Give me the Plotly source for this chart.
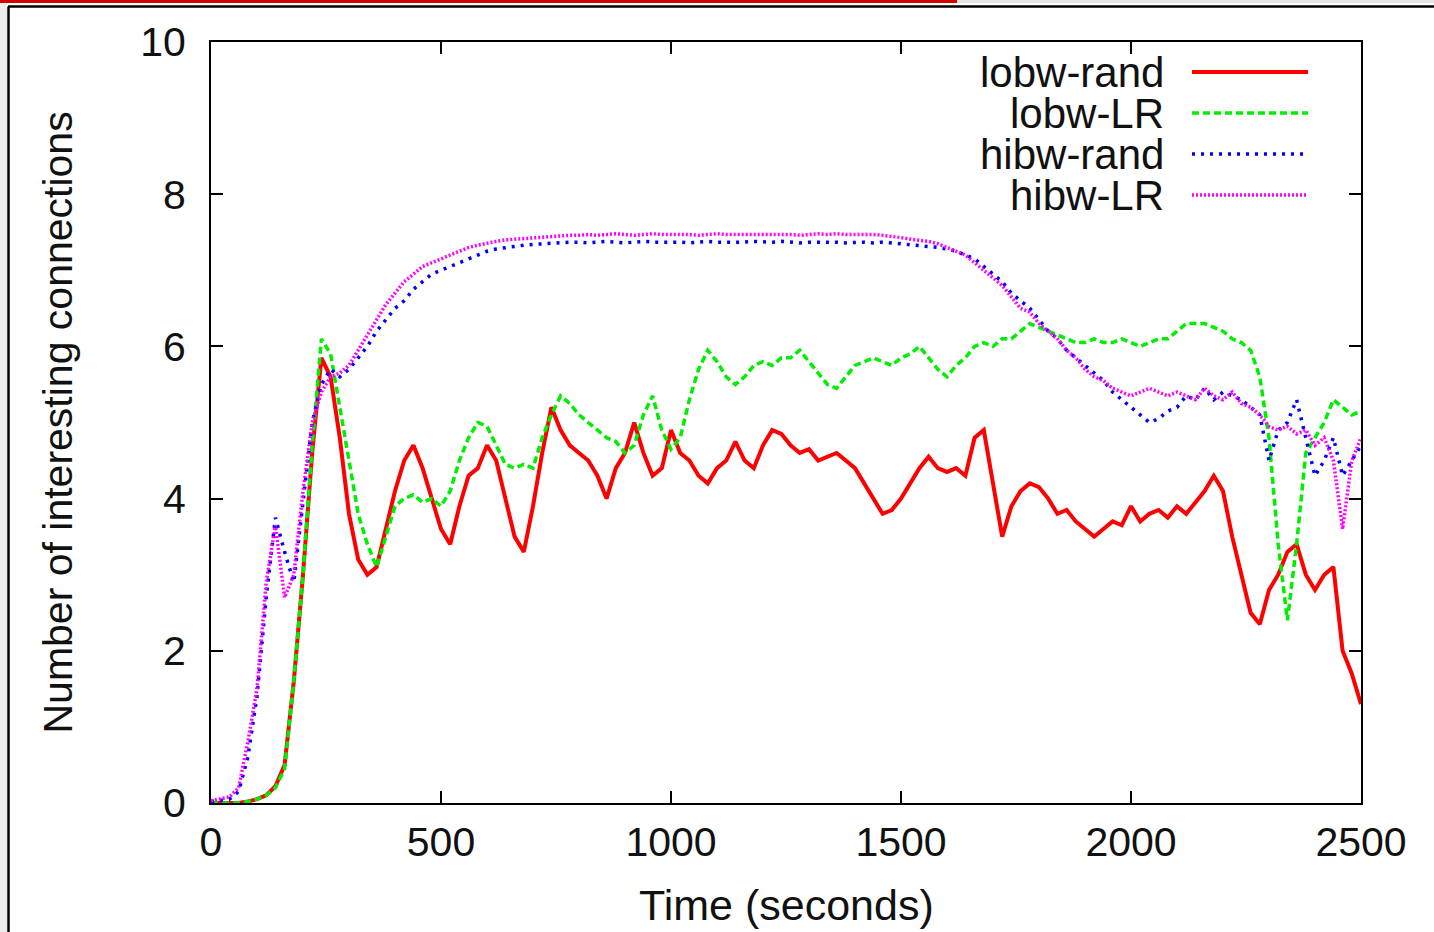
import plotly.graph_objects as go

# ---------------- data ----------------
time_s = list(range(0, 2501, 20))

lobw_rand = [
    0.0, 0.0, 0.0, 0.0, 0.02, 0.05, 0.1, 0.22, 0.5, 1.6,
    3.0, 4.6, 5.85, 5.6, 4.8, 3.8, 3.2, 3.0, 3.1, 3.6,
    4.1, 4.5, 4.7, 4.4, 4.0, 3.6, 3.4, 3.9, 4.3, 4.4,
    4.7, 4.5, 4.0, 3.5, 3.3, 3.9, 4.6, 5.2, 4.9, 4.7,
    4.6, 4.5, 4.3, 4.0, 4.4, 4.6, 5.0, 4.6, 4.3, 4.4,
    4.9, 4.6, 4.5, 4.3, 4.2, 4.4, 4.5, 4.75, 4.5, 4.4,
    4.7, 4.9, 4.85, 4.7, 4.6, 4.65, 4.5, 4.55, 4.6, 4.5,
    4.4, 4.2, 4.0, 3.8, 3.85, 4.0, 4.2, 4.4, 4.55, 4.4,
    4.35, 4.4, 4.3, 4.8, 4.9, 4.2, 3.5, 3.9, 4.1, 4.2,
    4.15, 4.0, 3.8, 3.85, 3.7, 3.6, 3.5, 3.6, 3.7, 3.65,
    3.9, 3.7, 3.8, 3.85, 3.75, 3.9, 3.8, 3.95, 4.1, 4.3,
    4.1, 3.5, 3.0, 2.5, 2.35, 2.8, 3.0, 3.3, 3.4, 3.0,
    2.8, 3.0, 3.1, 2.0, 1.7, 1.3,
]

lobw_lr = [
    0.0, 0.0, 0.0, 0.0, 0.02, 0.05, 0.1, 0.2, 0.45, 1.6,
    3.0, 4.7, 6.1, 5.9, 5.2, 4.5, 3.8, 3.4, 3.1, 3.5,
    3.9, 4.0, 4.05, 3.95, 4.0, 3.9, 4.1, 4.5, 4.8, 5.0,
    4.95, 4.7, 4.45, 4.4, 4.45, 4.4, 4.8, 5.1, 5.35, 5.25,
    5.1, 5.0, 4.9, 4.8, 4.75, 4.6, 4.7, 5.1, 5.35, 4.9,
    4.65, 4.8, 5.3, 5.7, 5.95, 5.8, 5.6, 5.5, 5.6, 5.75,
    5.8, 5.75, 5.85, 5.85, 5.95, 5.8, 5.65, 5.5, 5.45, 5.6,
    5.75, 5.8, 5.85, 5.8, 5.75, 5.85, 5.9, 6.0, 5.85, 5.7,
    5.6, 5.75, 5.85, 6.0, 6.05, 6.0, 6.1, 6.1, 6.2, 6.3,
    6.25, 6.2, 6.15, 6.1, 6.05, 6.05, 6.1, 6.05, 6.05, 6.1,
    6.05, 6.0, 6.05, 6.1, 6.1, 6.2, 6.3, 6.3, 6.3, 6.25,
    6.2, 6.1, 6.05, 5.95, 5.6, 4.8, 3.4, 2.4, 3.4, 4.6,
    4.8, 5.0, 5.3, 5.2, 5.1, 5.15,
]

hibw_rand = [
    0.02, 0.03, 0.05, 0.15, 0.6, 1.4, 2.7, 3.75, 3.3, 2.9,
    4.0, 5.0, 5.5, 5.7, 5.6, 5.7, 5.85, 6.0, 6.2, 6.35,
    6.5, 6.6, 6.75, 6.85, 6.95, 7.0, 7.05, 7.1, 7.15, 7.2,
    7.25, 7.28, 7.3, 7.32, 7.33, 7.34, 7.35, 7.36, 7.36, 7.37,
    7.37, 7.36, 7.37, 7.38, 7.37, 7.36, 7.37, 7.38, 7.37, 7.37,
    7.38, 7.37, 7.36, 7.37, 7.38, 7.37, 7.37, 7.36, 7.37, 7.38,
    7.37, 7.37, 7.38, 7.37, 7.36, 7.37, 7.37, 7.38, 7.37, 7.36,
    7.37, 7.37, 7.36, 7.37, 7.36, 7.35, 7.34, 7.33, 7.32, 7.3,
    7.28, 7.25, 7.2, 7.15, 7.05, 6.95, 6.85, 6.7, 6.6, 6.5,
    6.35, 6.2, 6.1, 5.95, 5.85, 5.75, 5.65, 5.55, 5.4, 5.3,
    5.2, 5.1, 5.0, 5.05, 5.15, 5.2, 5.35, 5.3, 5.45, 5.3,
    5.4, 5.35, 5.3, 5.2, 5.1, 4.5, 4.9, 5.0, 5.3, 4.8,
    4.3, 4.5, 4.8, 4.3, 4.5, 4.7,
]

hibw_lr = [
    0.03, 0.05, 0.08, 0.2, 0.8, 1.5, 2.9, 3.65, 2.7, 3.0,
    4.1, 5.0, 5.4, 5.6, 5.65, 5.75, 5.95, 6.15, 6.35, 6.55,
    6.7, 6.85, 6.95, 7.05, 7.1, 7.15, 7.2, 7.25, 7.3, 7.33,
    7.36, 7.38, 7.4, 7.41, 7.42, 7.43, 7.44, 7.45, 7.45, 7.46,
    7.46, 7.47, 7.46, 7.47, 7.48, 7.47, 7.46, 7.47, 7.48, 7.47,
    7.47, 7.48, 7.47, 7.46, 7.47, 7.48, 7.47, 7.47, 7.48, 7.47,
    7.48, 7.47, 7.48, 7.47, 7.46, 7.47, 7.48, 7.47, 7.48, 7.47,
    7.47, 7.48, 7.47, 7.46, 7.45, 7.43, 7.41, 7.4, 7.38, 7.35,
    7.3, 7.25, 7.2, 7.1, 7.0, 6.9, 6.8, 6.65, 6.5, 6.45,
    6.3, 6.2, 6.1, 5.95, 5.85, 5.7, 5.6, 5.55, 5.45, 5.4,
    5.35, 5.4, 5.45, 5.4, 5.35, 5.4, 5.35, 5.3, 5.45, 5.35,
    5.3, 5.4, 5.25, 5.2, 5.1, 4.95, 4.9, 4.95, 4.85, 4.9,
    4.7, 4.8, 4.5, 3.6, 4.5, 4.8,
]

series_names = ["lobw-rand", "lobw-LR", "hibw-rand", "hibw-LR"]
x_ticks = [0, 500, 1000, 1500, 2000, 2500]
y_ticks = [0, 2, 4, 6, 8, 10]

# ---------------- styling ----------------
W, H = 1434, 932
L, R, T, B = 211, 73, 42, 129
PW, PH = W - L - R, H - T - B
FONT = "Liberation Sans, Arial, Helvetica, sans-serif"
TXT = "#111111"

def px(xp):
    return (xp - L) / PW

def py(yp):
    return (H - B - yp) / PH

styles = [
    dict(color="#ff0000", width=4, dash="solid"),
    dict(color="#00ee00", width=3.5, dash="7px,4px"),
    dict(color="#0000ff", width=3.5, dash="3px,6px"),
    dict(color="#ff00ff", width=3.5, dash="2px,2px"),
]
series = [lobw_rand, lobw_lr, hibw_rand, hibw_lr]

fig = go.Figure()
for name, ys, st in zip(series_names, series, styles):
    fig.add_trace(go.Scatter(x=time_s, y=ys, mode="lines", name=name,
                             line=st, showlegend=False))

axis_common = dict(
    showline=True, linecolor="black", linewidth=2, mirror="ticks",
    ticks="inside", ticklen=12, tickwidth=1.5, tickcolor="black",
    showgrid=False, zeroline=False,
    tickfont=dict(family=FONT, size=41, color=TXT),
)

fig.update_layout(
    width=W, height=H,
    margin=dict(l=L, r=R, t=T, b=B),
    paper_bgcolor="white", plot_bgcolor="white",
    font=dict(family=FONT, color="black"),
    xaxis=dict(range=[0, 2500], tickvals=x_ticks, ticklabelstandoff=2, **axis_common),
    yaxis=dict(range=[0, 10], tickvals=y_ticks, ticklabelstandoff=15, **axis_common),
)

annotations = [
    dict(text="Time (seconds)", x=0.5, y=py(905), xref="paper", yref="paper",
         showarrow=False, xanchor="center", yanchor="middle",
         font=dict(family=FONT, size=43, color=TXT)),
    dict(text="Number of interesting connections", x=px(57), y=0.5,
         xref="paper", yref="paper", showarrow=False, textangle=-90,
         xanchor="center", yanchor="middle",
         font=dict(family=FONT, size=41, color=TXT)),
]
shapes = []
legend_rows = [72, 113, 154, 195]
for name, st, yrow in zip(series_names, styles, legend_rows):
    annotations.append(dict(text=name, x=px(1166), y=py(yrow), xref="paper", yref="paper",
                            showarrow=False, xanchor="right", yanchor="middle",
                            font=dict(family=FONT, size=42, color=TXT)))
    shapes.append(dict(type="line", xref="paper", yref="paper",
                       x0=px(1192), x1=px(1308), y0=py(yrow), y1=py(yrow),
                       line=dict(color=st["color"], width=st["width"], dash=st["dash"])))

# page frame decorations
shapes += [
    dict(type="rect", xref="paper", yref="paper", x0=px(0), x1=px(957), y0=py(3), y1=py(0),
         line=dict(width=0), fillcolor="#d40000", layer="above"),
    dict(type="rect", xref="paper", yref="paper", x0=px(957), x1=px(1434), y0=py(3), y1=py(0),
         line=dict(width=0), fillcolor="#e4e4e4", layer="above"),
    dict(type="rect", xref="paper", yref="paper", x0=px(0), x1=px(7), y0=py(932), y1=py(3),
         line=dict(width=0), fillcolor="#ececec", layer="above"),
    dict(type="line", xref="paper", yref="paper", x0=px(8), x1=px(1434), y0=py(6.5), y1=py(6.5),
         line=dict(color="black", width=2.5)),
    dict(type="line", xref="paper", yref="paper", x0=px(8.5), x1=px(8.5), y0=py(932), y1=py(6.5),
         line=dict(color="black", width=2.5)),
]

fig.update_layout(annotations=annotations, shapes=shapes)
fig.write_html("out.html", config={"displayModeBar": False},
               post_script="document.body.style.margin='0';document.body.style.overflow='hidden';")
